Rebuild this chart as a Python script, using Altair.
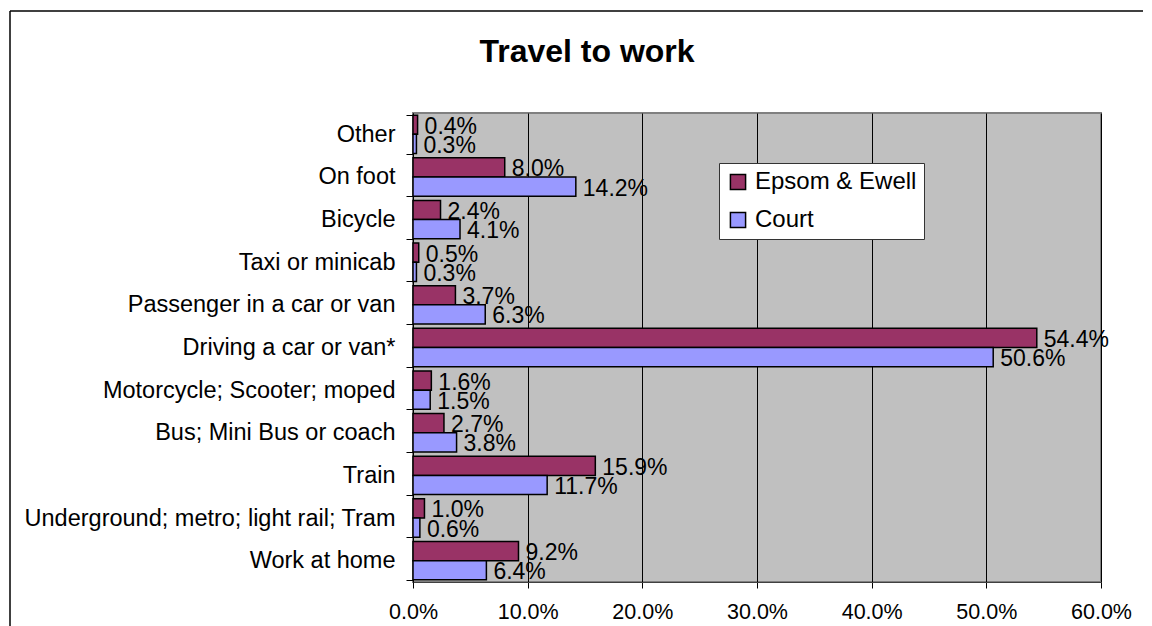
import altair as alt
import pandas as pd

categories = [
    "Other", "On foot", "Bicycle", "Taxi or minicab", "Passenger in a car or van",
    "Driving a car or van*", "Motorcycle; Scooter; moped", "Bus; Mini Bus or coach",
    "Train", "Underground; metro; light rail; Tram", "Work at home",
]
series = ["Epsom & Ewell", "Court"]
epsom = [0.4, 8.0, 2.4, 0.5, 3.7, 54.4, 1.6, 2.7, 15.9, 1.0, 9.2]
court = [0.3, 14.2, 4.1, 0.3, 6.3, 50.6, 1.5, 3.8, 11.7, 0.6, 6.4]
x_ticks = [0.0, 0.1, 0.2, 0.3, 0.4, 0.5, 0.6]

rows = []
for c, e, k in zip(categories, epsom, court):
    rows.append({"category": c, "series": series[0], "value": e / 100})
    rows.append({"category": c, "series": series[1], "value": k / 100})
df = pd.DataFrame(rows)

FONT = "Liberation Sans"

y_enc = alt.Y("category:N", sort=categories,
              scale=alt.Scale(paddingInner=0.1, paddingOuter=0.05),
              axis=alt.Axis(title=None, tickBand="extent", tickSize=7, labelPadding=11,
                            labelFontSize=23.5, labelFont=FONT, labelColor="black",
                            domainColor="black", tickColor="black", grid=False,
                            labelLimit=500))
x_enc = alt.X("value:Q", scale=alt.Scale(domain=[0, 0.6], nice=False),
              axis=alt.Axis(title=None, values=x_ticks, format=".1%", grid=True,
                            gridColor="black", gridWidth=1, tickSize=6, labelPadding=13,
                            labelFlush=False, labelFontSize=21.5, labelFont=FONT,
                            labelColor="black", domainColor="#404040", tickColor="black"))
yoff = alt.YOffset("series:N", sort=series)

bars = alt.Chart(df).mark_bar(stroke="black", strokeWidth=1.5).encode(
    y=y_enc, x=x_enc, yOffset=yoff,
    color=alt.Color("series:N", sort=series,
                    scale=alt.Scale(domain=series, range=["#993366", "#9999FF"]),
                    legend=alt.Legend(title=None, orient="none", legendX=306, legendY=50,
                                      fillColor="white", strokeColor="#333333",
                                      padding=7, symbolType="square", symbolSize=230,
                                      symbolStrokeColor="black", symbolStrokeWidth=1.5,
                                      labelFontSize=24, labelFont=FONT, labelColor="black",
                                      rowPadding=14, labelOffset=5, labelLimit=300)),
)

labels = alt.Chart(df).mark_text(align="left", baseline="middle", dx=7, dy=2,
                                 fontSize=23, font=FONT, color="black").encode(
    y=alt.Y("category:N", sort=categories), x="value:Q", yOffset=yoff,
    text=alt.Text("value:Q", format=".1%"),
)

frame_df = pd.DataFrame({"k": [0]})
frame_left = alt.Chart(frame_df).mark_rule(color="black", strokeWidth=1.5).encode(
    x=alt.value(-403), y=alt.value(-102), y2=alt.value(520))
frame_top = alt.Chart(frame_df).mark_rule(color="black", strokeWidth=1.5).encode(
    x=alt.value(-403), x2=alt.value(730), y=alt.value(-102))

chart = alt.layer(frame_left, frame_top, bars, labels).properties(
    width=688, height=469,
    title=alt.TitleParams("Travel to work", fontSize=32, font=FONT, fontWeight="bold",
                          color="black", anchor="middle", dx=-170, offset=0, dy=84,
                          frame="group", baseline="alphabetic"),
    autosize=alt.AutoSizeParams(type="none"),
    padding={"left": 405, "top": 105, "right": 43, "bottom": 44},
).configure_view(fill="#C0C0C0", stroke="#808080", strokeWidth=2)

chart.save("out.html", embed_options={"renderer": "svg", "actions": False})
